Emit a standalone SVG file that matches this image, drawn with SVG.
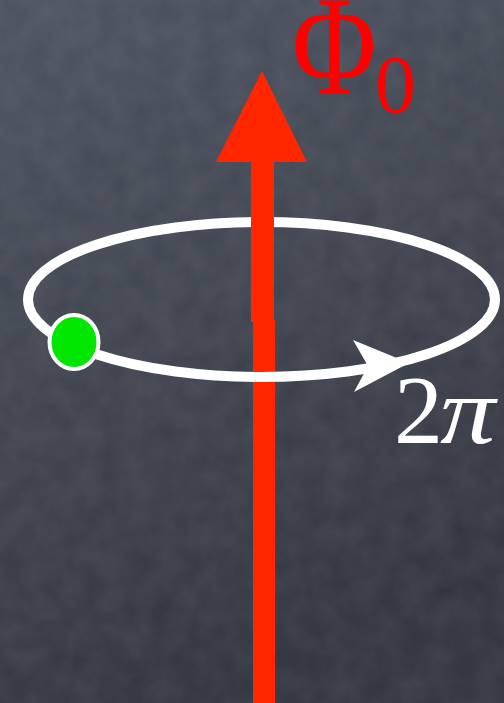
<svg xmlns="http://www.w3.org/2000/svg" width="504" height="703" viewBox="0 0 504 703">
<defs>
<linearGradient id="bg" x1="0" y1="0" x2="0.3" y2="1">
<stop offset="0" stop-color="#4b515e"/>
<stop offset="0.5" stop-color="#3d424e"/>
<stop offset="1" stop-color="#2f333d"/>
</linearGradient>
<filter id="grain" x="0" y="0" width="100%" height="100%">
<feTurbulence type="fractalNoise" baseFrequency="0.04" numOctaves="3" seed="4"/>
<feColorMatrix type="matrix" values="0 0 0 0 1  0 0 0 0 1  0 0 0 0 1  0 0 0 0.09 0"/>
</filter>
<style>
.red{fill:#ff2600}
.ring{fill:none;stroke:#ffffff;stroke-width:10}
.lbl{font-family:"Liberation Serif","DejaVu Serif",serif}
</style>
</defs>
<g id="background">
<rect width="504" height="703" fill="url(#bg)"/>
<rect width="504" height="703" filter="url(#grain)"/>
</g>
<g id="flux-lower">
<rect class="red" x="253" y="320" width="22" height="383"/>
</g>
<g id="loop">
<ellipse class="ring" cx="261.5" cy="299.5" rx="233.5" ry="77.5"/>
<path d="M409,363 L353,340 L368,366 L354,392 Z" fill="#ffffff"/>
</g>
<g id="flux-arrow">
<rect class="red" x="251" y="150" width="23" height="172"/>
<polygon class="red" points="262,71 307,162 216,162"/>
</g>
<g id="charge">
<ellipse cx="74" cy="342" rx="24.5" ry="27" fill="#00e600" stroke="#ffffff" stroke-width="4"/>
</g>
<g id="labels">
<text class="lbl" transform="translate(292,93) scale(0.98,1.2)" font-size="118" fill="#ff0000">Φ</text>
<text class="lbl" x="375" y="112" font-size="82" fill="#ff0000">0</text>
<text class="lbl" x="394" y="443" font-size="98" fill="#ffffff">2</text>
<text class="lbl" transform="translate(440,443) scale(1.15,1)" font-size="96" font-style="italic" fill="#ffffff">π</text>
</g>
</svg>
